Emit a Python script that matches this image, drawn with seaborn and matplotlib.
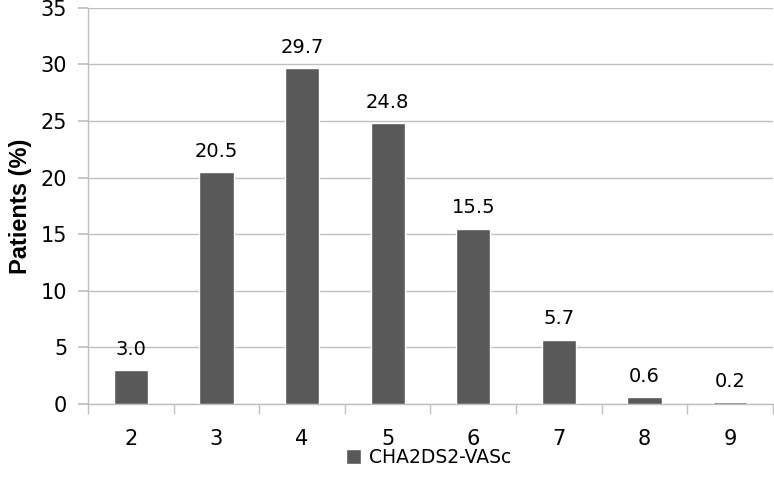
import matplotlib
matplotlib.use("Agg")
import matplotlib.pyplot as plt
import seaborn as sns
import pandas as pd
from matplotlib.ticker import FixedLocator

scores = ["2", "3", "4", "5", "6", "7", "8", "9"]
patients_pct = [3.0, 20.5, 29.7, 24.8, 15.5, 5.7, 0.6, 0.2]
series_name = "CHA2DS2-VASc"
y_ticks = [0, 5, 10, 15, 20, 25, 30, 35]

sns.set_theme(style="white")
plt.rcParams['font.family'] = ['DejaVu Sans']
plt.rcParams['text.color'] = 'black'
plt.rcParams['xtick.color'] = 'black'
plt.rcParams['ytick.color'] = 'black'

df = pd.DataFrame({"score": scores, "pct": patients_pct})

fig = plt.figure(figsize=(7.74, 4.91), dpi=100)
ax = fig.add_axes([0.1137, 0.177, 0.885, 0.807])

sns.barplot(data=df, x="score", y="pct", color="#595959", width=0.4,
            saturation=1, label=series_name, ax=ax, zorder=3)

for i, v in enumerate(patients_pct):
    ax.text(i, v + 1.0, f"{v:.1f}", ha="center", va="bottom", fontsize=14, color="#000000")

ax.set_ylim(0, 35)
ax.set_xlim(-0.5, len(scores) - 0.5)
ax.set_yticks(y_ticks)
ax.yaxis.grid(True, color="#bfbfbf", linewidth=1, zorder=0)
ax.set_axisbelow(True)
for s in ["top", "right"]:
    ax.spines[s].set_visible(False)
ax.spines["left"].set_color("#bfbfbf")
ax.spines["bottom"].set_color("#bfbfbf")
ax.spines["left"].set_linewidth(1)
ax.spines["bottom"].set_linewidth(1)

ax.tick_params(axis="y", which="both", left=True, length=7, color="#bfbfbf",
               labelcolor="black", labelsize=15, pad=8, direction="out")
ax.tick_params(axis="x", which="major", bottom=False, labelcolor="black", labelsize=15, pad=12)
ax.xaxis.set_minor_locator(FixedLocator([i + 0.5 for i in range(-1, len(scores))]))
ax.tick_params(axis="x", which="minor", bottom=True, length=7, color="#bfbfbf", width=1,
               direction="out")

ax.set_xlabel("")
ax.set_ylabel("Patients (%)", fontsize=17, fontweight="bold", family="Liberation Sans",
              color="black", labelpad=6)

leg = ax.legend(loc="center", bbox_to_anchor=(0.497, -0.135), frameon=False,
                fontsize=13.5, handlelength=0.8, handleheight=0.8, handletextpad=0.4)
for t in leg.get_texts():
    t.set_color("black")

fig.savefig("out.png", dpi=100)
